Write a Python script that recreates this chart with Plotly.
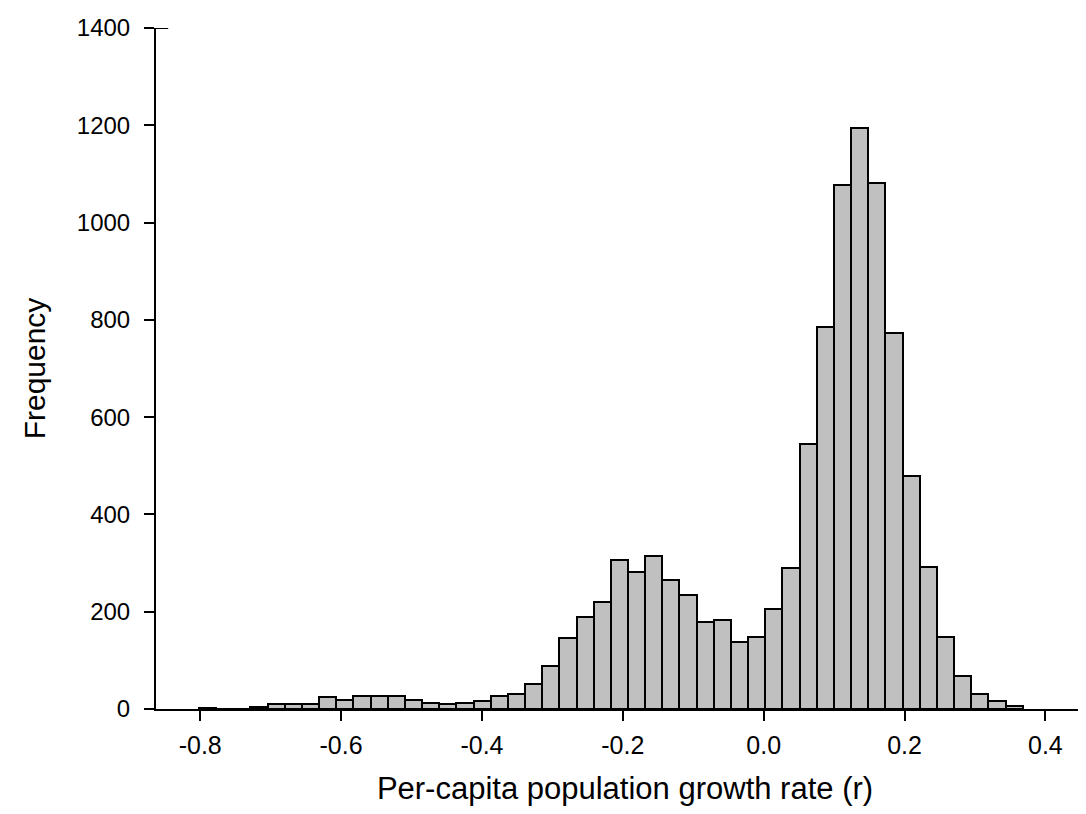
import plotly.graph_objects as go

# Histogram bins (equal width)
bin_start = -0.8019
bin_width = 0.02437
counts = [3, 0, 0, 4, 11, 11, 11, 24, 19, 27,
          27, 27, 18, 12, 10, 12, 16, 26, 31, 52,
          89, 145, 189, 221, 306, 282, 315, 266, 235, 179,
          184, 138, 149, 205, 289, 545, 785, 1078, 1194, 1082,
          774, 479, 292, 149, 68, 31, 16, 7]

x_ticks = [-0.8, -0.6, -0.4, -0.2, 0.0, 0.2, 0.4]
x_tick_labels = ["-0.8", "-0.6", "-0.4", "-0.2", "0.0", "0.2", "0.4"]
y_ticks = [0, 200, 400, 600, 800, 1000, 1200, 1400]

centers = [bin_start + (i + 0.5) * bin_width for i in range(len(counts))]

fig = go.Figure(go.Bar(
    x=centers, y=counts, width=bin_width,
    marker=dict(color="#c0c0c0", line=dict(color="black", width=2)),
    hoverinfo="x+y",
))

font = "Liberation Sans, Arial, sans-serif"
fig.update_layout(
    width=1086, height=814,
    margin=dict(l=148, r=0, t=20, b=113),
    paper_bgcolor="white", plot_bgcolor="white",
    showlegend=False,
    font=dict(family=font, color="black"),
    bargap=0,
)
# small cap to the inside of the y axis at its top tick
fig.add_shape(type="line", xref="paper", yref="y",
              x0=0, x1=0.013, y0=y_ticks[-1], y1=y_ticks[-1],
              line=dict(color="black", width=2))
fig.update_xaxes(
    range=[-0.8628, 0.469],
    tickvals=x_ticks, ticktext=x_tick_labels,
    ticks="outside", ticklen=10, tickwidth=2, tickcolor="black",
    showline=True, linecolor="black", linewidth=2,
    showgrid=False, zeroline=False,
    tickfont=dict(size=25, family=font),
    ticklabelstandoff=3,
    title=dict(text="Per-capita population growth rate (r)", font=dict(size=31, family=font), standoff=19),
)
fig.update_yaxes(
    range=[0, 1400],
    tickvals=y_ticks,
    ticks="outside", ticklen=10, tickwidth=2, tickcolor="black",
    showline=True, linecolor="black", linewidth=2,
    showgrid=False, zeroline=False,
    tickfont=dict(size=24, family=font),
    ticklabelstandoff=9,
    title=dict(text="Frequency", font=dict(size=30, family=font), standoff=22),
)

fig.write_html("out.html")
